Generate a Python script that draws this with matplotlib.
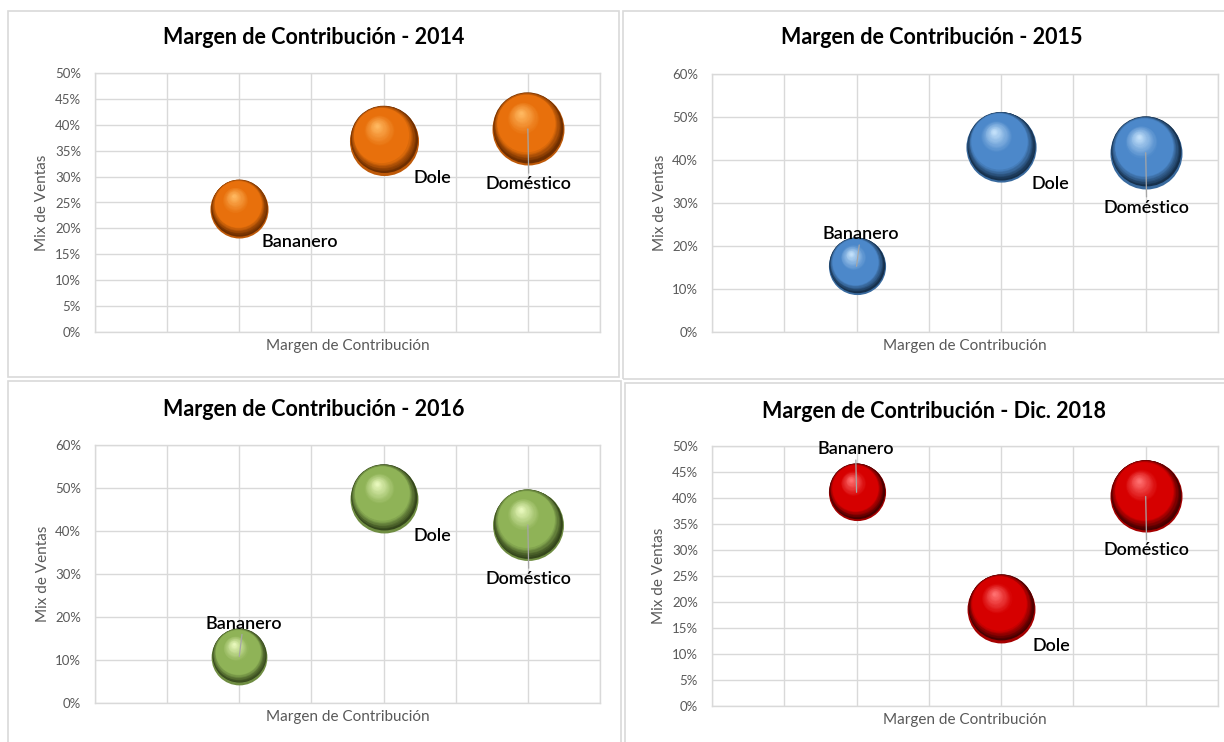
import matplotlib
matplotlib.use("Agg")
import matplotlib.pyplot as plt
import matplotlib.transforms as mtransforms
from matplotlib.colors import LinearSegmentedColormap
from matplotlib.patches import Rectangle
from matplotlib.ticker import PercentFormatter, MultipleLocator
import numpy as np

plt.rcParams['font.family'] = ['Lato', 'DejaVu Sans']

# data
categories = ['Bananero', 'Dole', 'Doméstico']
x_pos = [1, 2, 3]

titles = ['Margen de Contribución - 2014', 'Margen de Contribución - 2015',
          'Margen de Contribución - 2016', 'Margen de Contribución - Dic. 2018']

mix_2014 = [0.238, 0.369, 0.392]
mix_2015 = [0.153, 0.430, 0.417]
mix_2016 = [0.108, 0.475, 0.414]
mix_2018 = [0.411, 0.187, 0.403]

size_2014 = [0.65, 0.92, 1.00]
size_2015 = [0.63, 0.95, 1.00]
size_2016 = [0.60, 0.89, 0.97]
size_2018 = [0.63, 0.89, 1.00]

y_max = [0.5, 0.6, 0.6, 0.5]
y_step = [0.05, 0.1, 0.1, 0.05]

# colour (dark rim, base, highlight) for each panel
palettes = [('#6E2E00', '#E8700C', '#FFB860'),
            ('#16304C', '#4C88CA', '#C2E0FA'),
            ('#34461B', '#8FB357', '#E8F8BC'),
            ('#480000', '#D60000', '#FF7070')]

# label offsets in pixels (dx, dy) and whether a leader line is drawn
label_layout = [
    [((60, -33), False), ((49, -37), False), ((1, -55), True)],
    [((4, 32), True), ((49, -37), False), ((1, -55), True)],
    [((4, 33), True), ((49, -37), False), ((1, -54), True)],
    [((-1, 43), True), ((50, -37), False), ((1, -54), True)],
]

W, H = 1224, 742
fig = plt.figure(figsize=(W / 100, H / 100), dpi=100)

# panel frames and plot areas, in pixels (x0, y0, x1, y1) from the top left
frames = [(8, 11, 619, 377), (623, 11, 1230, 379), (8, 381, 621, 750), (625, 383, 1230, 750)]
areas = [(95, 73, 600, 332), (712, 74, 1218, 332), (95, 445, 600, 703), (712, 446, 1218, 706)]
title_pos = [(314, 38), (932, 38), (314, 410), (934, 411)]

for fx0, fy0, fx1, fy1 in frames:
    fig.add_artist(Rectangle((fx0 / W, 1 - fy1 / H), (fx1 - fx0) / W, (fy1 - fy0) / H,
                             transform=fig.transFigure, fill=False,
                             edgecolor='#D9D9D9', lw=1.2))

mixes = [mix_2014, mix_2015, mix_2016, mix_2018]
sizes = [size_2014, size_2015, size_2016, size_2018]

full_diam = 72  # pixels for bubble size 1.0


def draw_bubble(ax, x, y, size, pal):
    dark, base, light = pal
    cmap = LinearSegmentedColormap.from_list(
        'sph', [(0, dark), (0.18, base), (0.55, base), (1, light)])
    D = full_diam * np.sqrt(size)
    # soft reflected rim at the bottom
    ax.scatter([x], [y], s=(D * 0.72) ** 2, color=cmap(0.12), lw=0, zorder=3)
    n = 45
    for i in range(n):
        t = i / (n - 1)
        d = D * (0.97 - 0.93 * t)
        u = t ** 0.7
        dx = -0.10 * D * u
        dy = 0.02 * D + 0.20 * D * u
        tr = mtransforms.offset_copy(ax.transData, fig=fig, x=dx, y=dy, units='dots')
        ax.scatter([x], [y], s=(d * 0.72) ** 2, color=cmap(t), lw=0,
                   transform=tr, zorder=3 + t)


for k in range(4):
    x0, y0, x1, y1 = areas[k]
    ax = fig.add_axes([x0 / W, 1 - y1 / H, (x1 - x0) / W, (y1 - y0) / H])
    ax.set_xlim(0, 3.5)
    ax.set_ylim(0, y_max[k])
    ax.xaxis.set_major_locator(MultipleLocator(0.5))
    ax.yaxis.set_major_locator(MultipleLocator(y_step[k]))
    ax.yaxis.set_major_formatter(PercentFormatter(1.0, decimals=0))
    ax.grid(True, color='#D9D9D9', lw=1)
    ax.set_axisbelow(True)
    for sp in ax.spines.values():
        sp.set_color('#D9D9D9')
        sp.set_linewidth(1)
    ax.tick_params(axis='both', length=0, labelsize=9.5, labelcolor='#595959', pad=10)
    ax.tick_params(axis='x', labelbottom=False)
    ax.set_xlabel('Margen de Contribución', fontsize=11, color='#595959', labelpad=5)
    ax.set_ylabel('Mix de Ventas', fontsize=11, color='#595959', labelpad=4)

    for j, cat in enumerate(categories):
        draw_bubble(ax, x_pos[j], mixes[k][j], sizes[k][j], palettes[k])
        (dx, dy), leader = label_layout[k][j]
        ax.annotate(cat, xy=(x_pos[j], mixes[k][j]), xytext=(dx, dy),
                    textcoords='offset pixels', ha='center', va='center',
                    fontsize=13, fontweight='semibold', color='#000000', zorder=10,
                    arrowprops=dict(arrowstyle='-', color='#A6A6A6', lw=0.9,
                                    shrinkA=0, shrinkB=0) if leader else None)

    tx, ty = title_pos[k]
    fig.text(tx / W, 1 - ty / H, titles[k], ha='center', va='center',
             fontsize=15.5, fontweight='bold', color='#000000')

fig.savefig('out.png', dpi=100)
